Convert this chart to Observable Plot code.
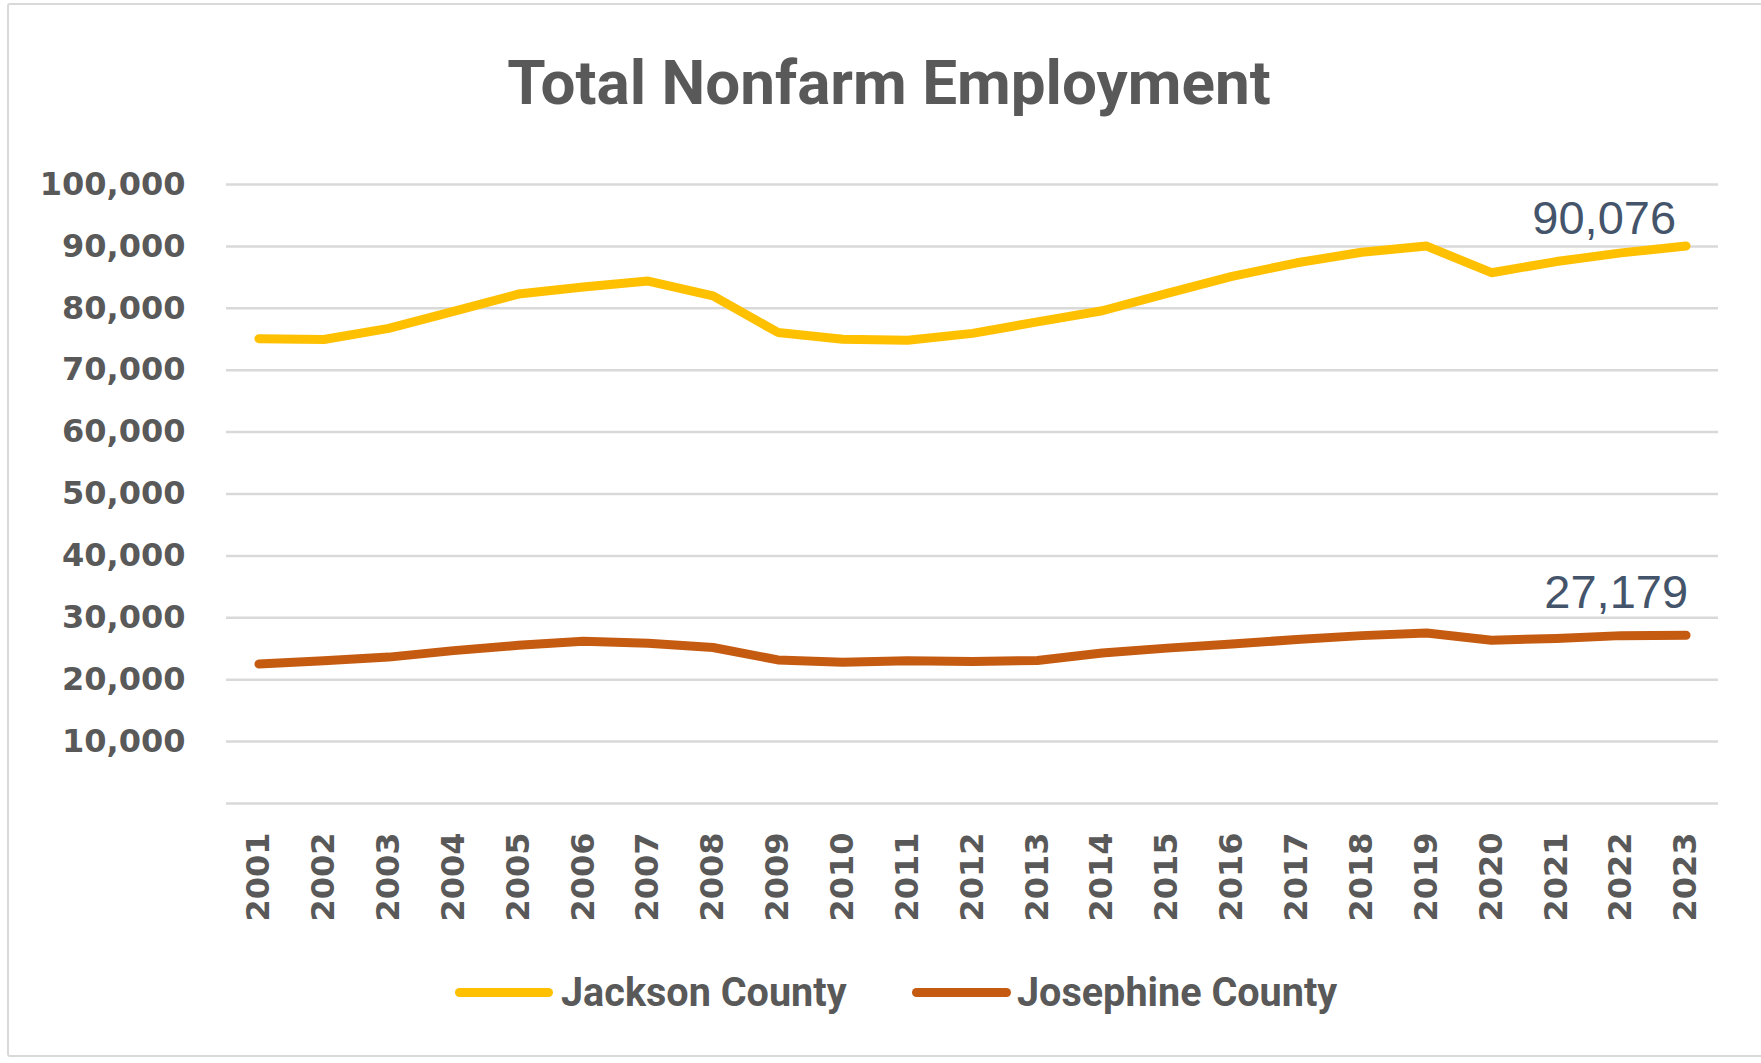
<!DOCTYPE html>
<html>
<head>
<meta charset="utf-8">
<script src="https://cdn.jsdelivr.net/npm/d3@7"></script>
<script src="https://cdn.jsdelivr.net/npm/@observablehq/plot@0.6"></script>
<style>
  html, body { margin: 0; padding: 0; background: #fff; width: 1761px; height: 1063px; overflow: hidden; position: relative; }
  #frame { position: absolute; left: 7px; top: 3px; width: 1790px; height: 1054px; border: 2px solid #d9d9d9; border-radius: 3px; box-sizing: border-box; }
  #title { position: absolute; left: 0; width: 1778px; top: 52px; text-align: center; font-family: Roboto, "Noto Sans", sans-serif; font-weight: 700; font-size: 62px; line-height: 1; color: #595959; white-space: nowrap; }
  #chart { position: absolute; left: 0; top: 140px; }
  .legend-swatch { position: absolute; height: 9px; border-radius: 5px; }
  .legend-text { position: absolute; font-family: Roboto, "Noto Sans", sans-serif; font-weight: 700; font-size: 41px; line-height: 1; color: #595959; white-space: nowrap; transform-origin: left center; transform: scaleX(0.965); }
  #chart svg [aria-label="y-axis tick label"] text,
  #chart svg [aria-label="x-axis tick label"] text { fill: #595959; font-family: "DejaVu Sans", sans-serif; font-weight: 700; font-size: 32px; }
</style>
</head>
<body>
<div id="frame"></div>
<div id="title">Total Nonfarm Employment</div>
<div id="chart"></div>
<div id="legend"></div>
<script>
// ---- data ----
const years = [2001, 2002, 2003, 2004, 2005, 2006, 2007, 2008, 2009, 2010, 2011, 2012,
               2013, 2014, 2015, 2016, 2017, 2018, 2019, 2020, 2021, 2022, 2023];
const jacksonCounty = [75100, 74950, 76750, 79500, 82300, 83450, 84400, 82000, 76100, 75000, 74850, 75950,
                       77800, 79600, 82400, 85150, 87350, 89050, 90050, 85750, 87550, 88950, 90076];
const josephineCounty = [22550, 23050, 23650, 24700, 25550, 26200, 25900, 25200, 23200, 22800, 23050, 22950,
                         23100, 24300, 25100, 25780, 26480, 27120, 27560, 26380, 26650, 27120, 27179];
const seriesNames = ["Jackson County", "Josephine County"];
const seriesColors = ["#FFC000", "#C55A11"];
const yGridTicks = [0, 10000, 20000, 30000, 40000, 50000, 60000, 70000, 80000, 90000, 100000];
const yLabelTicks = [10000, 20000, 30000, 40000, 50000, 60000, 70000, 80000, 90000, 100000];

const rows = [];
years.forEach((yr, i) => {
  rows.push({year: yr, value: jacksonCounty[i], series: seriesNames[0]});
  rows.push({year: yr, value: josephineCounty[i], series: seriesNames[1]});
});
const lastYear = years[years.length - 1];
const fmt = d3.format(",");

const chart = Plot.plot({
  width: 1761,
  height: 793,
  marginLeft: 226,
  marginRight: 43,
  marginTop: 44,
  marginBottom: 130,
  style: {background: "transparent", overflow: "visible"},
  x: {type: "linear", domain: [years[0] - 0.5, lastYear + 0.5]},
  y: {domain: [0, 100000]},
  color: {domain: seriesNames, range: seriesColors},
  marks: [
    Plot.gridY(yGridTicks, {stroke: "#d9d9d9", strokeOpacity: 1, strokeWidth: 2.5}),
    Plot.axisY(yLabelTicks, {tickSize: 0, tickPadding: 41, tickFormat: fmt, label: null}),
    Plot.axisX(years, {tickSize: 0, tickPadding: 29, tickRotate: -90, tickFormat: d => String(d), label: null}),
    Plot.lineY(rows, {x: "year", y: "value", z: "series", stroke: "series", strokeWidth: 9,
                      strokeLinecap: "round", strokeLinejoin: "round"}),
    Plot.text(rows.filter(d => d.year === lastYear && d.series === seriesNames[0]), {
      x: "year", y: "value", text: d => fmt(d.value), textAnchor: "end", lineAnchor: "bottom",
      dx: -10, dy: -12, fontSize: 47, fill: "#44546A", fontFamily: "Liberation Sans, Arial, sans-serif"}),
    Plot.text(rows.filter(d => d.year === lastYear && d.series === seriesNames[1]), {
      x: "year", y: "value", text: d => fmt(d.value), textAnchor: "end", lineAnchor: "bottom",
      dx: 2, dy: -27, fontSize: 47, fill: "#44546A", fontFamily: "Liberation Sans, Arial, sans-serif"})
  ]
});
document.getElementById("chart").appendChild(chart);

// ---- legend ----
const legend = document.getElementById("legend");
const legendLayout = [{swatchLeft: 455, swatchWidth: 98, textLeft: 561}, {swatchLeft: 912, swatchWidth: 99, textLeft: 1017}];
seriesNames.forEach((name, i) => {
  const sw = document.createElement("div");
  sw.className = "legend-swatch";
  sw.style.left = legendLayout[i].swatchLeft + "px";
  sw.style.width = legendLayout[i].swatchWidth + "px";
  sw.style.top = "988px";
  sw.style.background = seriesColors[i];
  legend.appendChild(sw);
  const tx = document.createElement("div");
  tx.className = "legend-text";
  tx.style.left = legendLayout[i].textLeft + "px";
  tx.style.top = "972px";
  tx.textContent = name;
  legend.appendChild(tx);
});
</script>
</body>
</html>
